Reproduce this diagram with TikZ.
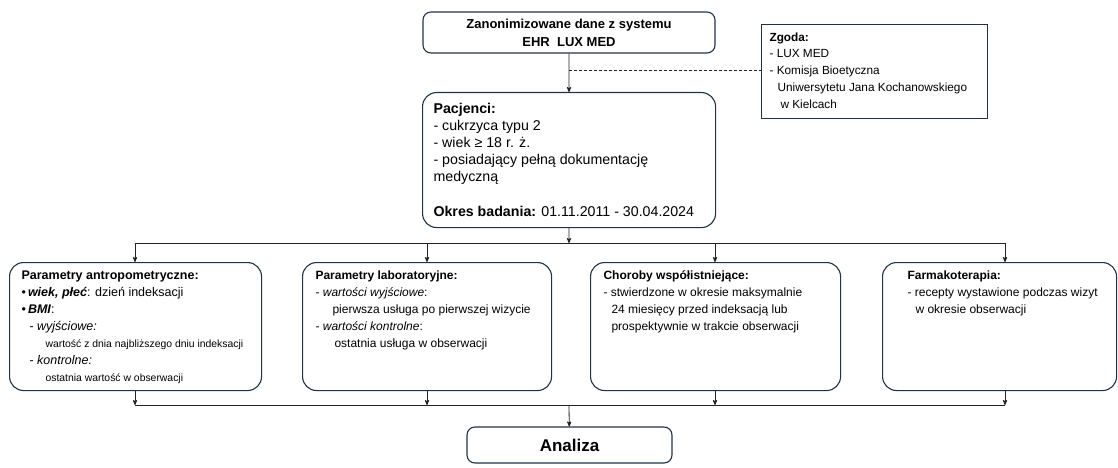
\documentclass[tikz,border=0pt]{standalone}
\usepackage{fontspec}
\setmainfont{Liberation Sans}
\usetikzlibrary{arrows,positioning}

\definecolor{boxline}{RGB}{30,52,70}
\definecolor{wire}{RGB}{35,35,35}
\newcommand{\boxbody}[3]{\parbox[c][#2][t]{#1}{#3}}

\begin{document}
\begin{tikzpicture}[x=1pt,y=-1pt,->,>=stealth',line width=0.8pt,draw=wire,
  stage/.style={draw=boxline,line width=1.1pt,rounded corners=14pt,
    anchor=north west,inner xsep=13pt,inner ysep=8pt,
    font=\fontsize{12}{17}\selectfont},
  headbox/.style={draw=boxline,line width=1.1pt,rounded corners=8pt,
    minimum width=292pt,minimum height=41pt,align=center,
    font=\bfseries\fontsize{13}{18}\selectfont},
  notebox/.style={draw=boxline,line width=1.1pt,anchor=north west,
    inner xsep=8pt,inner ysep=8pt,font=\fontsize{11.8}{16.8}\selectfont},
  endbox/.style={draw=boxline,line width=1.1pt,rounded corners=8pt,
    minimum width=205pt,minimum height=36pt,
    font=\bfseries\fontsize{17}{20}\selectfont},
  dashline/.style={-,draw=wire,line width=0.7pt,dash pattern=on 3pt off 2pt}]

  \useasboundingbox (0,0) rectangle (1118,468);

  % source, patients, consent
  \node[headbox] (src) at (569,32.5) {Zanonimizowane dane z systemu\\EHR\ \ LUX MED};

  \node[stage,inner xsep=11pt,inner ysep=11pt,font=\fontsize{14.2}{17}\selectfont]
    (pac) at (422,92) {\boxbody{271pt}{113pt}{%
      \textbf{Pacjenci:}\\
      - cukrzyca typu 2\\
      - wiek ≥ 18 r. ż.\\
      - posiadający pełną dokumentację\\
      medyczną\\[18pt]
      \textbf{Okres badania:} 01.11.2011 - 30.04.2024}};

  \node[notebox] (zgoda) at (761,24) {\boxbody{210pt}{78pt}{%
      \textbf{Zgoda:}\\
      - LUX MED\\
      - Komisja Bioetyczna\\
      \hspace*{8pt}Uniwersytetu Jana Kochanowskiego\\
      \hspace*{11pt}w Kielcach}};

  % four parameter groups
  \node[stage,inner xsep=12pt,font=\fontsize{12.5}{17}\selectfont]
    (anthro) at (9,262) {\boxbody{228pt}{112pt}{%
      \textbf{Parametry antropometryczne:}\\
      \textbullet\,\textbf{\textit{wiek, płeć}}: dzień indeksacji\\
      \textbullet\,\textbf{\textit{BMI}}:\\
      \hspace*{8pt}- \textit{wyjściowe:}\\
      \hspace*{24pt}{\fontsize{10.4}{17}\selectfont wartość z dnia najbliższego dniu indeksacji}\\
      \hspace*{8pt}- \textit{kontrolne:}\\
      \hspace*{24pt}{\fontsize{10.4}{17}\selectfont ostatnia wartość w obserwacji}}};

  \node[stage] (lab) at (302,262) {\boxbody{223pt}{112pt}{%
      \textbf{Parametry laboratoryjne:}\\
      - \textit{wartości wyjściowe}:\\
      \hspace*{17pt}pierwsza usługa po pierwszej wizycie\\
      - \textit{wartości kontrolne}:\\
      \hspace*{19pt}ostatnia usługa w obserwacji}};

  \node[stage] (chor) at (590,262) {\boxbody{224pt}{112pt}{%
      \textbf{Choroby współistniejące:}\\
      - stwierdzone w okresie maksymalnie\\
      \hspace*{8pt}24 miesięcy przed indeksacją lub\\
      \hspace*{8pt}prospektywnie w trakcie obserwacji}};

  \node[stage,inner xsep=11pt] (farm) at (882,262) {\boxbody{212pt}{112pt}{%
      \hspace*{14pt}\textbf{Farmakoterapia:}\\
      \hspace*{14pt}- recepty wystawione podczas wizyt\\
      \hspace*{22pt}w okresie obserwacji}};

  \node[endbox] (ana) at (569.5,445) {Analiza};

  % junctions
  \coordinate (dash)  at (569,70);
  \coordinate (split) at (569,243);
  \coordinate (d1) at (135,243);
  \coordinate (d2) at (427,243);
  \coordinate (d3) at (715,243);
  \coordinate (d4) at (1005,243);
  \coordinate (merge) at (569,405);
  \coordinate (m1) at (135,405);
  \coordinate (m2) at (427,405);
  \coordinate (m3) at (715,405);
  \coordinate (m4) at (1005,405);

  \path (src) edge (pac)
        (pac) edge (split);
  \draw[dashline] (dash) -- (dash -| zgoda.west);

  \draw[-] (d1) -- (d4);
  \path (d1) edge (d1 |- anthro.north)
        (d2) edge (d2 |- lab.north)
        (d3) edge (d3 |- chor.north)
        (d4) edge (d4 |- farm.north);

  \path (m1 |- anthro.south) edge (m1)
        (m2 |- lab.south)    edge (m2)
        (m3 |- chor.south)   edge (m3)
        (m4 |- farm.south)   edge (m4);
  \draw[-] (m1) -- (m4);
  \path (merge) edge (ana);
\end{tikzpicture}
\end{document}
